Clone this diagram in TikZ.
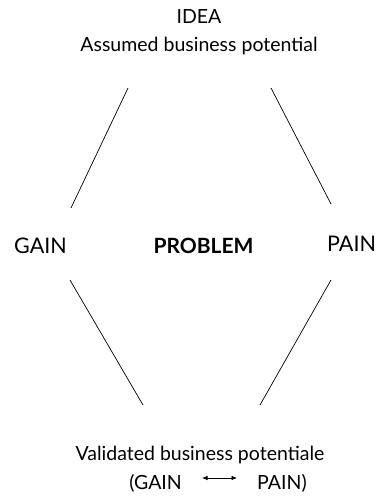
\documentclass[tikz,border=0pt]{standalone}
\usepackage{fontspec}
\setmainfont{Lato}
\usetikzlibrary{arrows.meta}
\begin{document}
\begin{tikzpicture}[x=1pt,y=-1pt,
  lbl/.style={font=\fontsize{19.5}{23}\selectfont, inner sep=0pt, anchor=base},
  corner/.style={font=\fontsize{21.5}{25}\selectfont, inner sep=0pt, anchor=base},
  edge/.style={line width=0.7pt, black},
  link/.style={line width=0.7pt, {Latex[length=5.5pt,width=4.5pt]}-{Latex[length=5.5pt,width=4.5pt]}}]
\useasboundingbox (0,0) rectangle (382,496);
% labels
\node[lbl] (idea) at (199,23) {IDEA};
\node[lbl] (assumed) at (199,51) {Assumed business potential};
\node[corner] (gain) at (40.5,253) {GAIN};
\node[corner, font=\fontsize{21}{25}\selectfont\bfseries] (problem) at (203.5,253) {PROBLEM};
\node[corner] (pain) at (351.5,251) {PAIN};
\node[lbl] (validated) at (200,460) {Validated business potentiale};
\node[lbl, anchor=base east] (g2) at (182,489) {(GAIN};
\node[lbl, anchor=base west] (p2) at (257,489) {PAIN)};
% diamond sides
\coordinate (tl1) at (128,88);  \coordinate (tl2) at (71,208);
\coordinate (tr1) at (271,88);  \coordinate (tr2) at (331,204);
\coordinate (bl1) at (70,280);  \coordinate (bl2) at (143,405);
\coordinate (br1) at (331,280); \coordinate (br2) at (260,405);
\draw[edge] (tl1) -- (tl2);
\draw[edge] (tr1) -- (tr2);
\draw[edge] (bl1) -- (bl2);
\draw[edge] (br1) -- (br2);
% two-way relation between gain and pain
\coordinate (a1) at (202,478); \coordinate (a2) at (237,478);
\draw[link] (a1) -- (a2);
\end{tikzpicture}
\end{document}
